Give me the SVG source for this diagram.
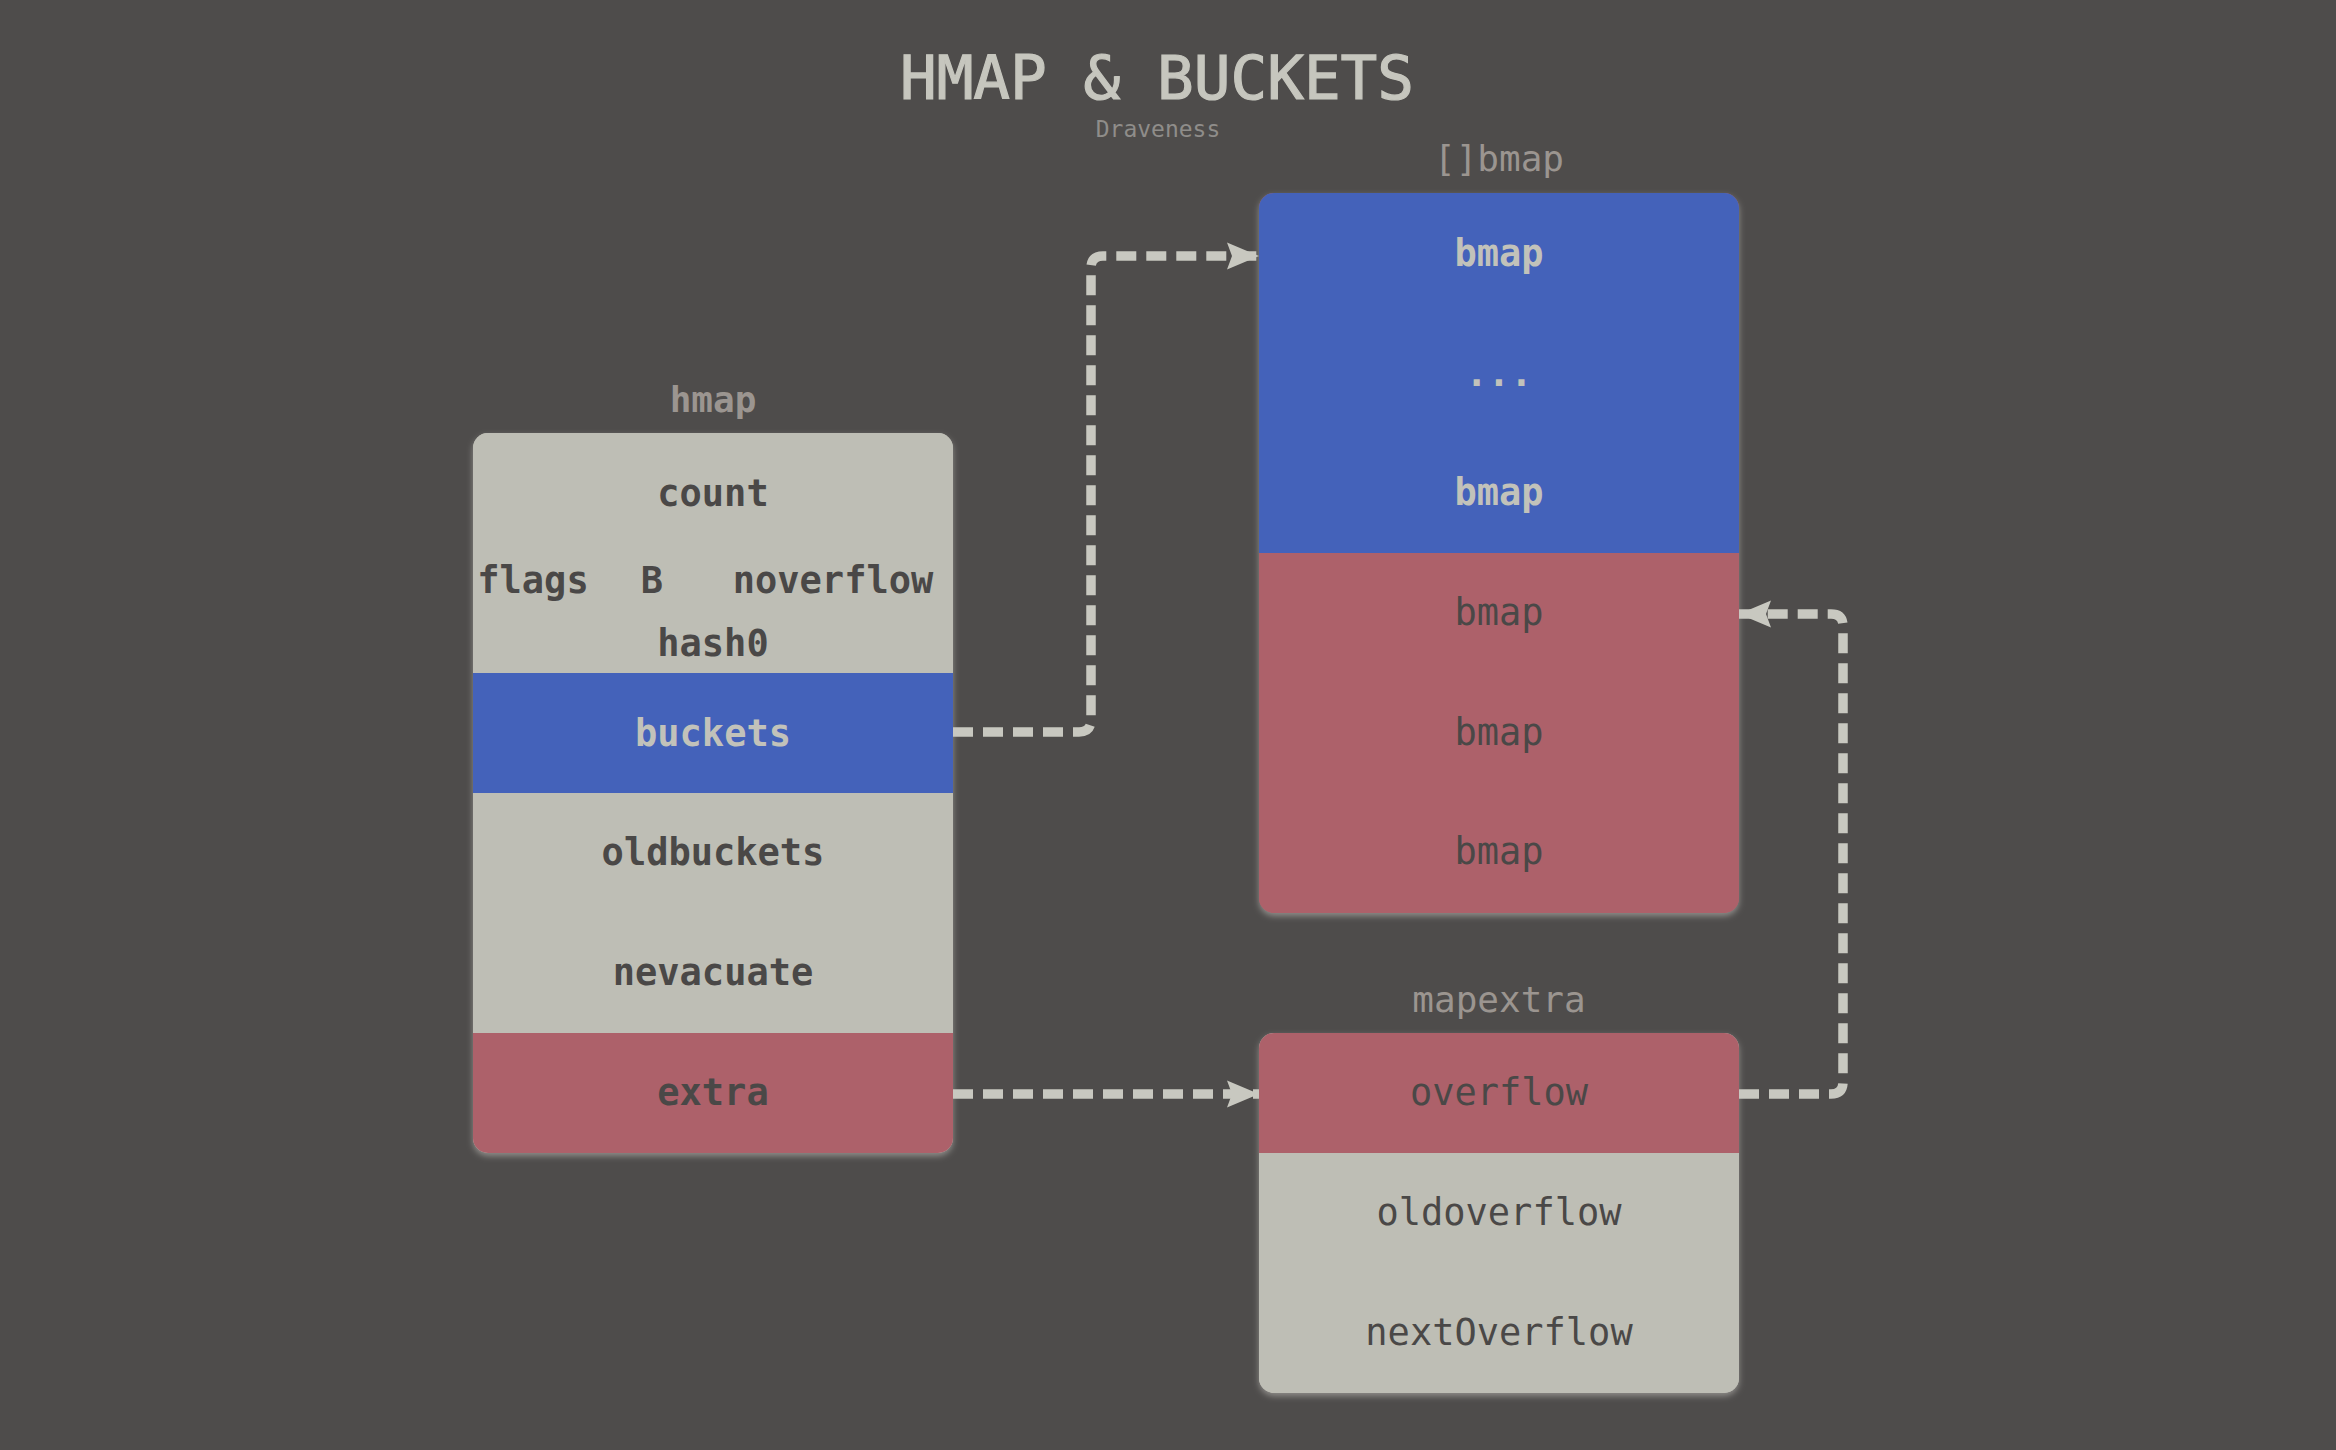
<svg xmlns="http://www.w3.org/2000/svg" width="2336" height="1450" viewBox="0 0 2336 1450">
  <style>
    .t { font-family: "DejaVu Sans Mono", "Liberation Mono", monospace; text-anchor: middle; }
    .title { font-size: 61px; fill: #c6c6be; stroke: #c6c6be; stroke-width: 1.2px; }
    .sub { font-size: 23px; fill: #8f8d8a; }
    .lbl { font-size: 36px; fill: #9b9590; }
    .f { font-size: 37px; font-weight: bold; fill: #4a4847; }
    .fr { font-size: 37px; fill: #4a4847; }
    .fl { font-size: 37px; font-weight: bold; fill: #c2c2ba; }
    .gray { fill: #bebeb5; }
    .blue { fill: #4462ba; }
    .red { fill: #ad616a; }
    .conn { fill: none; stroke: #c8c8c0; stroke-width: 9.5; stroke-dasharray: 20 10; }
  </style>
  <defs>
    <marker id="arrow" markerUnits="userSpaceOnUse" markerWidth="34" markerHeight="30" refX="32" refY="15" orient="auto">
      <path d="M0,1.5 L32,15 L0,28.5 L5,15 Z" fill="#c8c8c0"/>
    </marker>
    <filter id="glow" x="-5%" y="-5%" width="110%" height="112%">
      <feDropShadow dx="0" dy="3" stdDeviation="3" flood-color="#a09e9a" flood-opacity="0.8"/>
    </filter>
    <clipPath id="clipH"><rect x="473" y="433" width="480" height="720" rx="15"/></clipPath>
    <clipPath id="clipB"><rect x="1259" y="193" width="480" height="720" rx="15"/></clipPath>
    <clipPath id="clipM"><rect x="1259" y="1033" width="480" height="360" rx="15"/></clipPath>
  </defs>

  <rect x="0" y="0" width="2336" height="1450" fill="#4e4c4b"/>

  <text class="t title" x="1157" y="99">HMAP &amp; BUCKETS</text>
  <text class="t sub" x="1158" y="137">Draveness</text>

  <g id="hmap">
    <text class="t lbl" x="713" y="412" font-weight="bold">hmap</text>
    <rect x="473" y="433" width="480" height="720" rx="15" fill="#bebeb5" filter="url(#glow)"/>
    <g clip-path="url(#clipH)">
      <rect class="gray" x="473" y="433" width="480" height="240"/>
      <rect class="blue" x="473" y="673" width="480" height="120"/>
      <rect class="gray" x="473" y="793" width="480" height="240"/>
      <rect class="red" x="473" y="1033" width="480" height="120"/>
    </g>
    <text class="t f" x="713" y="506">count</text>
    <text class="t f" x="533" y="593">flags</text>
    <text class="t f" x="652" y="593">B</text>
    <text class="t f" x="833" y="593">noverflow</text>
    <text class="t f" x="713" y="656">hash0</text>
    <text class="t fl" x="713" y="746">buckets</text>
    <text class="t f" x="713" y="865">oldbuckets</text>
    <text class="t f" x="713" y="985">nevacuate</text>
    <text class="t f" x="713" y="1105">extra</text>
  </g>

  <g id="bmaps">
    <text class="t lbl" x="1499" y="171">[]bmap</text>
    <rect x="1259" y="193" width="480" height="720" rx="15" fill="#ad616a" filter="url(#glow)"/>
    <g clip-path="url(#clipB)">
      <rect class="blue" x="1259" y="193" width="480" height="360"/>
      <rect class="red" x="1259" y="553" width="480" height="360"/>
    </g>
    <text class="t fl" x="1499" y="266">bmap</text>
    <text class="t fl" x="1499" y="386">...</text>
    <text class="t fl" x="1499" y="505">bmap</text>
    <text class="t fr" x="1499" y="625">bmap</text>
    <text class="t fr" x="1499" y="745">bmap</text>
    <text class="t fr" x="1499" y="864">bmap</text>
  </g>

  <g id="mapextra">
    <text class="t lbl" x="1499" y="1012">mapextra</text>
    <rect x="1259" y="1033" width="480" height="360" rx="15" fill="#bebeb5" filter="url(#glow)"/>
    <g clip-path="url(#clipM)">
      <rect class="red" x="1259" y="1033" width="480" height="120"/>
      <rect class="gray" x="1259" y="1153" width="480" height="240"/>
    </g>
    <text class="t fr" x="1499" y="1105">overflow</text>
    <text class="t fr" x="1499" y="1225">oldoverflow</text>
    <text class="t fr" x="1499" y="1345">nextOverflow</text>
  </g>

  <g id="connectors">
    <path class="conn" d="M953,732 H1079 Q1091,732 1091,720 V268 Q1091,256 1103,256 H1259" marker-end="url(#arrow)"/>
    <path class="conn" d="M953,1094 H1259" marker-end="url(#arrow)"/>
    <path class="conn" d="M1739,1094 H1831 Q1843,1094 1843,1082 V626 Q1843,614 1831,614 H1739" marker-end="url(#arrow)"/>
  </g>
</svg>
